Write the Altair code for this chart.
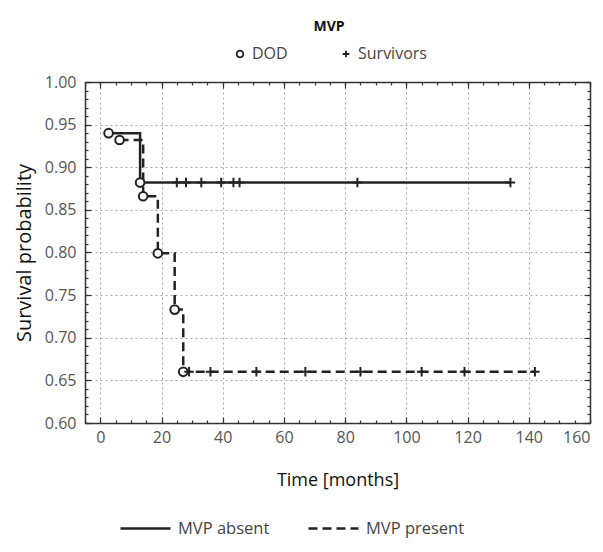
import altair as alt
import pandas as pd

# ---- data ----
groups = ["MVP absent", "MVP present"]

absent_t = [2.7, 13.0, 134.0]
absent_s = [0.940, 0.882, 0.882]
present_t = [6.3, 14.0, 18.8, 24.3, 27.1, 142.0]
present_s = [0.932, 0.866, 0.799, 0.733, 0.660, 0.660]

dod_absent_t = [2.7, 13.0]
dod_absent_s = [0.940, 0.882]
dod_present_t = [6.3, 14.0, 18.8, 24.3, 27.1]
dod_present_s = [0.932, 0.866, 0.799, 0.733, 0.660]

cens_absent_t = [25, 28, 33, 39.5, 43.5, 45.5, 84, 134]
cens_absent_s = [0.882] * len(cens_absent_t)
cens_present_t = [29, 36, 51, 67, 85, 105, 119, 142]
cens_present_s = [0.660] * len(cens_present_t)

x_major = [0, 20, 40, 60, 80, 100, 120, 140, 160]
x_minor = list(range(-5, 161, 5))
y_major = [0.60, 0.65, 0.70, 0.75, 0.80, 0.85, 0.90, 0.95, 1.00]
y_minor = [round(0.60 + 0.01 * i, 2) for i in range(41)]

lines_df = pd.concat([
    pd.DataFrame({"group": groups[0], "t": absent_t, "s": absent_s}),
    pd.DataFrame({"group": groups[1], "t": present_t, "s": present_s}),
])
dod_df = pd.concat([
    pd.DataFrame({"group": groups[0], "t": dod_absent_t, "s": dod_absent_s}),
    pd.DataFrame({"group": groups[1], "t": dod_present_t, "s": dod_present_s}),
])
dod_df["type"] = "DOD"
cens_df = pd.concat([
    pd.DataFrame({"group": groups[0], "t": cens_absent_t, "s": cens_absent_s}),
    pd.DataFrame({"group": groups[1], "t": cens_present_t, "s": cens_present_s}),
])
cens_df["type"] = "Survivors"

FONT = "Open Sans"
W, H = 505, 341
INK = "#222222"

xs = alt.Scale(domain=[-5, 160], nice=False, zero=False)
ys = alt.Scale(domain=[0.6, 1.0], nice=False, zero=False)


def tick_axis(orient, values, size, offset, domain=False):
    return alt.Axis(orient=orient, values=values, offset=offset, labels=False,
                    ticks=True, tickSize=size, tickColor="#333", tickWidth=1.2,
                    grid=False, domain=domain, domainColor="#333", domainWidth=1.5,
                    title=None)


x_main = alt.Axis(orient="bottom", values=x_major, ticks=False, grid=True,
                  gridDash=[2, 3], gridColor="#a8a8a8", gridWidth=1,
                  domain=True, domainColor="#333", domainWidth=1.5,
                  labelFont=FONT, labelFontSize=16, labelColor="#555",
                  labelPadding=6, labelFlush=True,
                  title="Time [months]", titleFont=FONT, titleFontSize=18,
                  titleFontWeight="normal", titleColor="#111", titlePadding=26)
y_main = alt.Axis(orient="left", values=y_major, format=".2f", ticks=False, grid=True,
                  gridDash=[2, 3], gridColor="#a8a8a8", gridWidth=1,
                  domain=True, domainColor="#333", domainWidth=1.5,
                  labelFont=FONT, labelFontSize=16, labelColor="#555",
                  labelPadding=9,
                  title="Survival probability", titleFont=FONT, titleFontSize=20,
                  titleFontWeight="normal", titleColor="#111", titlePadding=10)

lines = alt.Chart(lines_df).mark_line(interpolate="step-after", strokeWidth=2.5,
                                      color=INK).encode(
    x=alt.X("t:Q", scale=xs, axis=x_main),
    y=alt.Y("s:Q", scale=ys, axis=y_main),
    strokeDash=alt.StrokeDash(
        "group:N",
        scale=alt.Scale(domain=groups, range=[[1, 0], [9, 5]]),
        legend=alt.Legend(title=None, orient="none", legendX=34, legendY=420,
                          direction="horizontal", symbolType="stroke",
                          symbolSize=2500, symbolStrokeWidth=2.5,
                          symbolStrokeColor=INK, columnPadding=33,
                          labelFont=FONT, labelFontSize=16.5, labelColor="#444",
                          labelOffset=6),
    ),
)

shape_scale = alt.Scale(domain=["DOD", "Survivors"],
                        range=["circle", "M-1,0L1,0M0,-1L0,1"])
shape_legend = alt.Legend(title="MVP", orient="none", legendX=147, legendY=-62,
                          direction="horizontal", titleAnchor="middle",
                          titleFont=FONT, titleFontSize=14, titleFontWeight="bold",
                          titleColor="#111", titlePadding=12,
                          labelFont=FONT, labelFontSize=16, labelColor="#444",
                          columnPadding=50, symbolSize=45,
                          symbolStrokeWidth=1.8, symbolStrokeColor=INK,
                          symbolFillColor="white", symbolOpacity=1)

# white discs under the DOD circles so the step lines do not show inside them
circle_bg = alt.Chart(dod_df).mark_circle(color="white", size=75, opacity=1).encode(
    x=alt.X("t:Q", scale=xs, axis=tick_axis("top", x_major, 6, -H)),
    y=alt.Y("s:Q", scale=ys, axis=tick_axis("right", y_major, 6, -W)),
)

circles = alt.Chart(dod_df).mark_point(color=INK, strokeWidth=2, size=75,
                                       opacity=1).encode(
    x=alt.X("t:Q", scale=xs, axis=tick_axis("top", x_minor, 3, -H)),
    y=alt.Y("s:Q", scale=ys, axis=tick_axis("right", y_minor, 3, -W)),
    shape=alt.Shape("type:N", scale=shape_scale, legend=shape_legend),
)

plus = alt.Chart(cens_df).mark_point(color=INK, strokeWidth=2, size=90,
                                     opacity=1).encode(
    x=alt.X("t:Q", scale=xs, axis=tick_axis("bottom", x_major, 6, -H, domain=True)),
    y=alt.Y("s:Q", scale=ys, axis=tick_axis("left", y_major, 6, -W, domain=True)),
    shape=alt.Shape("type:N", scale=shape_scale, legend=shape_legend),
)

edge_minor = alt.Chart(cens_df).mark_point(opacity=0).encode(
    x=alt.X("t:Q", scale=xs, axis=tick_axis("bottom", x_minor, 3, -H)),
    y=alt.Y("s:Q", scale=ys, axis=tick_axis("left", y_minor, 3, -W)),
)

chart = alt.layer(lines, circle_bg, circles, plus, edge_minor).resolve_axis(
    x="independent", y="independent"
).properties(
    width=W, height=H,
    autosize=alt.AutoSizeParams(type="none"),
    padding={"left": 77, "top": 74, "right": 5, "bottom": 115},
).configure_view(stroke=None)

chart.save("out.html", embed_options={"renderer": "svg", "actions": False})
